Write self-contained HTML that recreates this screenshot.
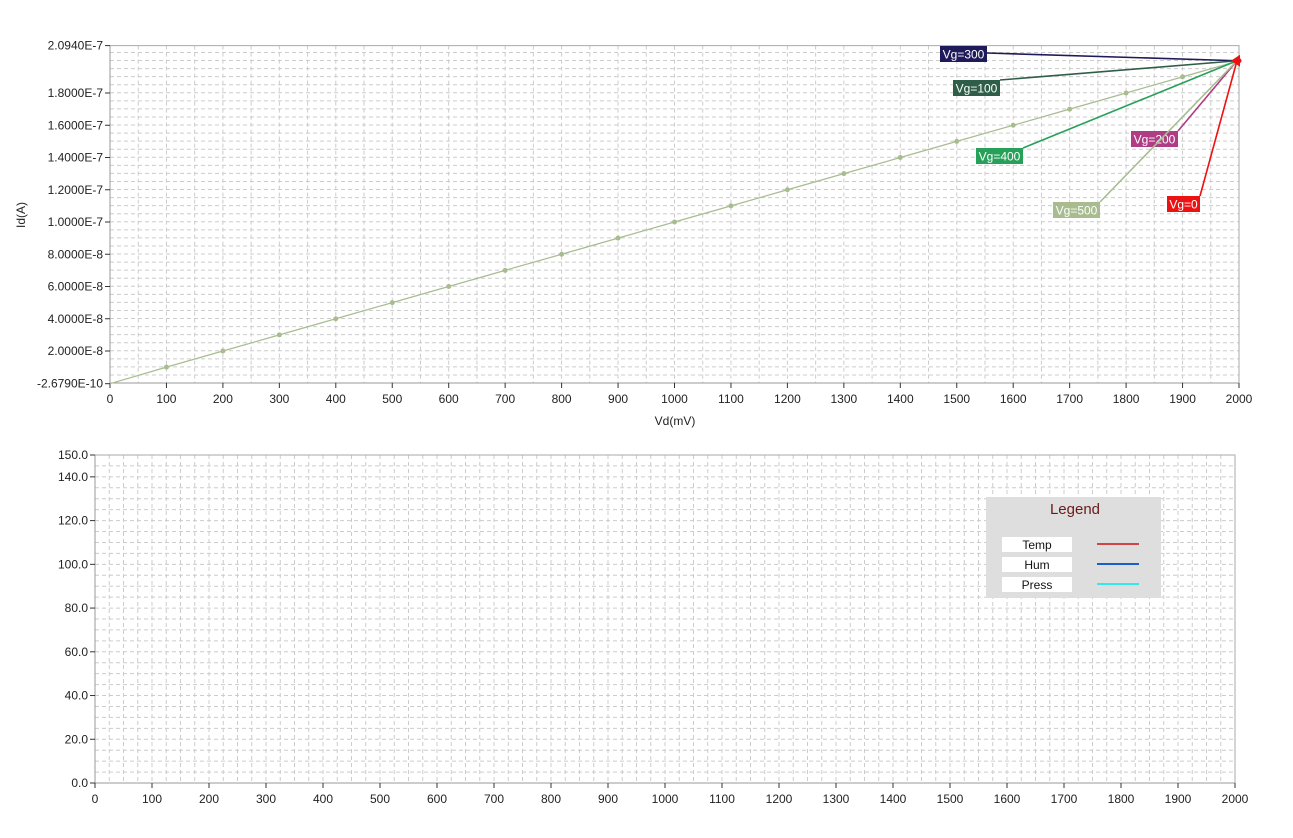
<!DOCTYPE html>
<html><head><meta charset="utf-8"><style>
body{margin:0;background:#fff;width:1293px;height:833px;overflow:hidden;font-family:"Liberation Sans",sans-serif}
svg text{font-family:"Liberation Sans",sans-serif}
</style></head><body>
<svg id="s" width="1293" height="833"></svg>
<script>
const xTicks=[0,100,200,300,400,500,600,700,800,900,1000,1100,1200,1300,1400,1500,1600,1700,1800,1900,2000];
const yTickVals=[-2.679e-10,2e-8,4e-8,6e-8,8e-8,1e-7,1.2e-7,1.4e-7,1.6e-7,1.8e-7,2.094e-7];
const yTickLabels=["-2.6790E-10","2.0000E-8","4.0000E-8","6.0000E-8","8.0000E-8","1.0000E-7","1.2000E-7","1.4000E-7","1.6000E-7","1.8000E-7","2.0940E-7"];
const vd=[0,100,200,300,400,500,600,700,800,900,1000,1100,1200,1300,1400,1500,1600,1700,1800,1900,2000];
const id=[-2.679e-10,1e-8,2e-8,3e-8,4e-8,5e-8,6e-8,7e-8,8e-8,9e-8,1e-7,1.1e-7,1.2e-7,1.3e-7,1.4e-7,1.5e-7,1.6e-7,1.7e-7,1.8e-7,1.9e-7,2e-7];
const annLabels=["Vg=300","Vg=100","Vg=400","Vg=200","Vg=500","Vg=0"];
const annColors=["#1f1a5a","#2f5e48","#27a05a","#b03c85","#a8bc90","#ee1111"];
const annX=[940,953,976,1131,1053,1167];
const annY=[46,80,148,131,202,196];
const annW=[47,47,47,47,47,33];
const bTicks=[0,20,40,60,80,100,120,140,150];
const bLabels=["0.0","20.0","40.0","60.0","80.0","100.0","120.0","140.0","150.0"];
const legNames=["Temp","Hum","Press"];
const legColors=["#d04545","#1a5fc8","#33e8e8"];

const S=document.getElementById('s');const NS="http://www.w3.org/2000/svg";
function el(t,a,p){const e=document.createElementNS(NS,t);for(const k in a)e.setAttribute(k,a[k]);(p||S).appendChild(e);return e;}
// top axes
const X0=110,X1=1239,YT=45.6,YB=383;
const xs=v=>X0+(v/2000)*(X1-X0);
const ys=v=>383.25-v*1.6125e9;
function grid(x0,x1,y0,y1,xstep,xmax,ystepPx,scaleX){
  for(let v=0;v<=xmax;v+=xstep){const x=scaleX(v);const l=el('line',{x1:x,x2:x,y1:y0,y2:y1,stroke:'#ccc','stroke-dasharray':'4,3'});
  }
  for(let y=y1;y>y0;y-=ystepPx){const l=el('line',{x1:x0,x2:x1,y1:y,y2:y,stroke:'#ccc','stroke-dasharray':'4,3'});
  }
}
grid(X0,X1,YT,YB,50,2000,8.0625,xs);
el('polyline',{points:`${X0},${YT} ${X1},${YT} ${X1},${YB}`,fill:'none',stroke:'#aaa'});
el('line',{x1:X0,x2:X0,y1:YT,y2:YB,stroke:'#999'});
el('line',{x1:X0,x2:X1,y1:YB,y2:YB,stroke:'#999'});
xTicks.forEach(v=>{const x=xs(v);el('line',{x1:x,x2:x,y1:YB,y2:YB+5,stroke:'#333'});
 const t=el('text',{x:x,y:YB+20,'text-anchor':'middle','font-size':12,fill:'#222'});t.textContent=v;
 });
yTickVals.forEach((v,i)=>{const y=ys(v);el('line',{x1:X0-5,x2:X0,y1:y,y2:y,stroke:'#333'});
 const t=el('text',{x:X0-7,y:y+4,'text-anchor':'end','font-size':12,fill:'#222'});t.textContent=yTickLabels[i];
 });
let t=el('text',{x:675,y:425,'text-anchor':'middle','font-size':12,fill:'#222'});t.textContent='Vd(mV)';

t=el('text',{x:25,y:215,'text-anchor':'middle','font-size':12,fill:'#222',transform:'rotate(-90 25 215)'});t.textContent='Id(A)';

const pl=el('polyline',{points:vd.map((v,i)=>xs(v)+','+ys(id[i])).join(' '),fill:'none',stroke:'#a8bc90','stroke-width':1.2});

vd.forEach((v,i)=>{if(i==0)return;const c=el('circle',{cx:xs(v),cy:ys(id[i]),r:2.5,fill:i==vd.length-1?'#ee1111':'#a8bc90'});
 });
const tipX=xs(vd[vd.length-1])-2,tipY=ys(id[id.length-1]);
annLabels.forEach((s,i)=>{
 const sx=i==0?annX[i]+annW[i]:(i==3||i==5?annX[i]+annW[i]:(i==4?annX[i]+annW[i]:annX[i]+annW[i]));
 const sy=annY[i]+(i==0?7:0);
 const l=el('line',{x1:sx,y1:sy,x2:tipX,y2:tipY,stroke:annColors[i],'stroke-width':1.6});
 
 const g=el('g',{});
 el('rect',{x:annX[i],y:annY[i],width:annW[i],height:16,fill:annColors[i]},g);
 const tx=el('text',{x:annX[i]+annW[i]/2,y:annY[i]+12.5,'text-anchor':'middle','font-size':12,fill:'#fff'},g);tx.textContent=s;
});
el('polygon',{points:`${tipX+3},${tipY-6} ${tipX+3},${tipY+6} ${tipX-6},${tipY}`,fill:'#ee1111'});
// bottom axes
const B0=95,B1=1235,BT=455,BB=783;
const bx=v=>B0+(v/2000)*(B1-B0);const by=v=>BB-(v/150)*(BB-BT);
grid(B0,B1,BT,BB,25,2000,(BB-BT)/30,bx);
el('polyline',{points:`${B0},${BT} ${B1},${BT} ${B1},${BB}`,fill:'none',stroke:'#aaa'});
el('line',{x1:B0,x2:B0,y1:BT,y2:BB,stroke:'#999'});
el('line',{x1:B0,x2:B1,y1:BB,y2:BB,stroke:'#999'});
xTicks.forEach(v=>{const x=bx(v);el('line',{x1:x,x2:x,y1:BB,y2:BB+5,stroke:'#333'});
 const t=el('text',{x:x,y:BB+20,'text-anchor':'middle','font-size':12,fill:'#222'});t.textContent=v;
 });
bTicks.forEach((v,i)=>{const y=by(v);el('line',{x1:B0-5,x2:B0,y1:y,y2:y,stroke:'#333'});
 const t=el('text',{x:B0-7,y:y+4,'text-anchor':'end','font-size':12,fill:'#222'});t.textContent=bLabels[i];
 });
// legend
const lg=el('g',{});
el('rect',{x:986,y:497,width:175,height:101,fill:'#dedede'},lg);
t=el('text',{x:1075,y:514,'text-anchor':'middle','font-size':15,fill:'#6b1a1a'},lg);t.textContent='Legend';
legNames.forEach((n,i)=>{const g=el('g',{},lg);
 el('rect',{x:1002,y:537+i*20,width:70,height:15,fill:'#fff'},g);
 const tx=el('text',{x:1037,y:549+i*20,'text-anchor':'middle','font-size':12,fill:'#111'},g);tx.textContent=n;
 el('line',{x1:1097,x2:1139,y1:544+i*20,y2:544+i*20,stroke:legColors[i],'stroke-width':2},g);});
</script>
</body></html>
